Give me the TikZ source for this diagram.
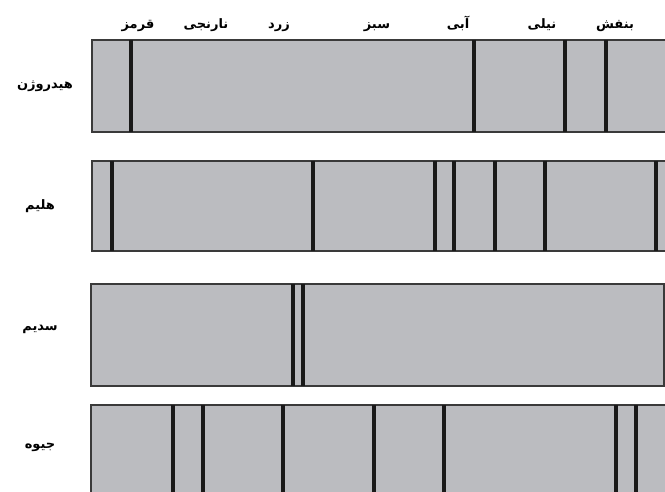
\documentclass[tikz,border=0pt]{standalone}
\usepackage{fontspec}
\TeXXeTstate=1
\newfontfamily\arabicfont[Script=Arabic,BoldFont={DejaVu Sans Bold}]{DejaVu Sans}
\definecolor{specfill}{HTML}{BBBCC0}
\definecolor{specedge}{HTML}{3A3A3A}
\tikzset{
  specbox/.style={draw=specedge, line width=2.6pt, fill=specfill},
  specline/.style={draw=black!90, line width=3.2pt},
  colorlab/.style={font=\arabicfont\bfseries\fontsize{13}{15}\selectfont, inner sep=0pt, anchor=base},
  elemlab/.style={font=\arabicfont\bfseries\fontsize{13}{15}\selectfont, inner sep=0pt},
}
\begin{document}
\begin{tikzpicture}[x=1pt,y=-1pt]
\useasboundingbox (0,0) rectangle (665,492);
\clip (0,0) rectangle (665,492);
% colour labels
\node[colorlab] (red) at (138,29) {\beginR قرمز\endR};
\node[colorlab] (orange) at (206,29) {\beginR نارنجی\endR};
\node[colorlab] (yellow) at (279,29) {\beginR زرد\endR};
\node[colorlab] (green) at (377,29) {\beginR سبز\endR};
\node[colorlab] (blue) at (458,29) {\beginR آبی\endR};
\node[colorlab] (indigo) at (542,29) {\beginR نیلی\endR};
\node[colorlab] (violet) at (615,29) {\beginR بنفش\endR};
% element labels
\node[elemlab] (h) at (45,86) {\beginR هیدروژن\endR};
\node[elemlab] (he) at (40,206) {\beginR هلیم\endR};
\node[elemlab] (na) at (40,329) {\beginR سدیم\endR};
\node[elemlab] (hg) at (40,447) {\beginR جیوه\endR};
% spectra boxes
\draw[specbox] (92,40) rectangle (680,132);
\draw[specbox] (92,161) rectangle (680,251);
\draw[specbox] (91,284) rectangle (664,386);
\draw[specbox] (91,405) rectangle (680,510);
% lines
\foreach \x in {131,474,565,606} \draw[specline] (\x,40) -- (\x,132);
\foreach \x in {112,313,435,454,495,545,656} \draw[specline] (\x,161) -- (\x,251);
\foreach \x in {293,303} \draw[specline] (\x,284) -- (\x,386);
\foreach \x in {173,203,283,374,444,616,636} \draw[specline] (\x,405) -- (\x,510);
\end{tikzpicture}
\end{document}
